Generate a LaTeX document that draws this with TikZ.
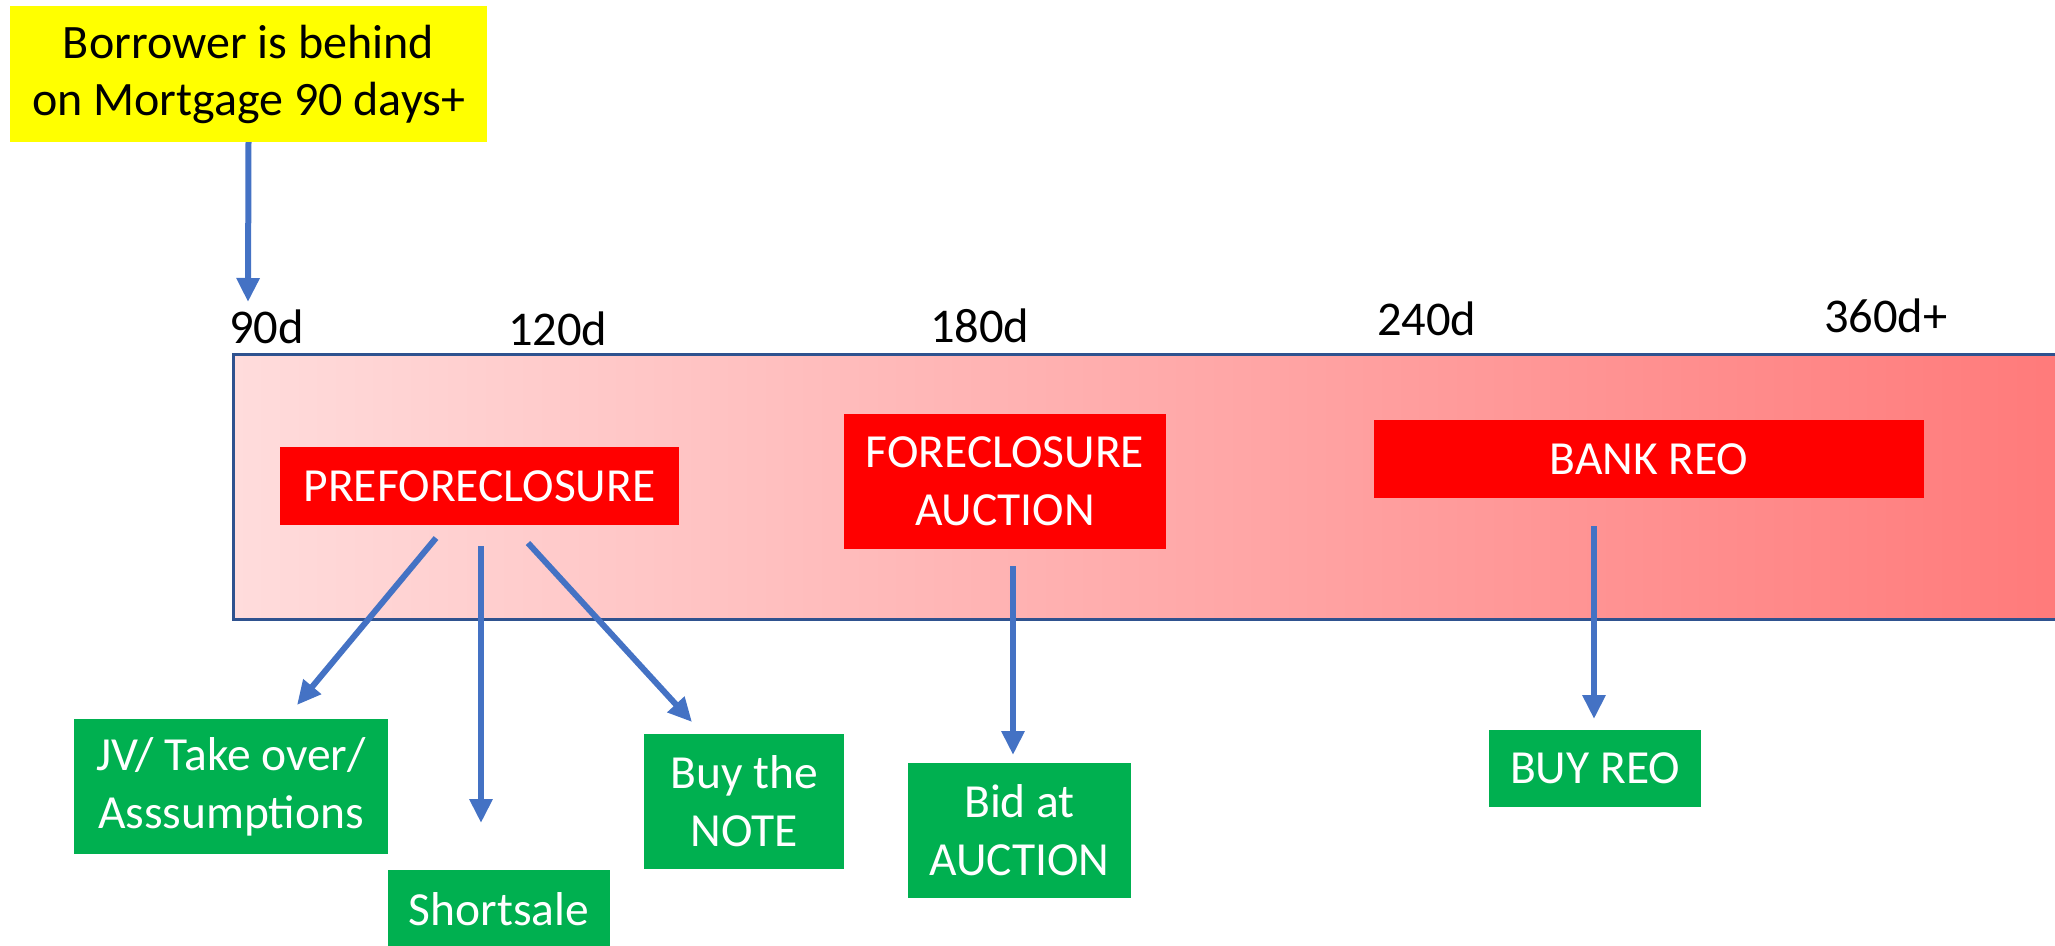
\documentclass[tikz,border=0pt]{standalone}
\usepackage{fontspec}
\setmainfont{Carlito}
\usetikzlibrary{arrows.meta,calc}
\definecolor{ylw}{RGB}{255,255,0}
\definecolor{redbox}{RGB}{255,0,0}
\definecolor{grn}{RGB}{0,176,80}
\definecolor{arrblue}{RGB}{68,114,196}
\definecolor{bandline}{RGB}{47,82,143}
\definecolor{bandL}{RGB}{255,220,220}
\definecolor{bandR}{RGB}{255,122,122}
\begin{document}
\begin{tikzpicture}[x=1pt,y=-1pt,
  lbl/.style={font=\fontsize{48.5}{56}\selectfont, inner sep=0pt, anchor=base west},
  redb/.style={fill=redbox, text=white, font=\fontsize{47.5}{58}\selectfont, align=center, inner sep=0pt},
  grnb/.style={fill=grn, text=white, font=\fontsize{47.5}{58}\selectfont, align=center, inner sep=0pt},
  arr/.style={draw=arrblue, line width=6pt, -{Triangle[width=22pt,length=24pt]}}]
\useasboundingbox (0,0) rectangle (2055,945);
\clip (0,0) rectangle (2055,945);
% band
\node[draw=bandline, line width=3pt, left color=bandL, right color=bandR,
  minimum width=1830pt, minimum height=265pt, inner sep=0pt] (band) at (1148,486.5) {};
% yellow
\node[fill=ylw, minimum width=477pt, minimum height=136pt, inner sep=0pt, align=center,
  font=\fontsize{48}{57}\selectfont] (yel) at (248.5,74) {Borrower is behind\\on Mortgage 90 days+};
% day labels
\node[lbl] (d90) at (229,343) {90d};
\node[lbl] (d120) at (508,345) {120d};
\node[lbl] (d180) at (930,342) {180d};
\node[lbl] (d240) at (1377,335) {240d};
\node[lbl] (d360) at (1824,332) {360d+};
% red boxes
\node[redb, minimum width=399pt, minimum height=78pt] (pre) at (479.5,486) {PREFORECLOSURE};
\node[redb, minimum width=322pt, minimum height=135pt] (fa) at (1005,481.5) {FORECLOSURE\\AUCTION};
\node[redb, minimum width=550pt, minimum height=78pt] (bank) at (1649,459) {BANK REO};
% green boxes
\node[grnb, minimum width=314pt, minimum height=135pt] (jv) at (231,786.5) {JV/ Take over/\\Asssumptions};
\node[grnb, minimum width=222pt, minimum height=78pt] (ss) at (499,909) {Shortsale};
\node[grnb, minimum width=200pt, minimum height=135pt] (note) at (744,801.5) {Buy the\\NOTE};
\node[grnb, minimum width=223pt, minimum height=135pt] (bid) at (1019.5,830.5) {Bid at\\AUCTION};
\node[grnb, minimum width=212pt, minimum height=77pt] (buy) at (1595,768.5) {BUY REO};
% connector ends
\coordinate (t0) at (248,302);
\coordinate (s1) at (436,538); \coordinate (t1) at (297,705);
\coordinate (s2) at (481,546); \coordinate (t2) at (481,823);
\coordinate (s3) at (528,543); \coordinate (t3) at (692,722);
\coordinate (s4) at (1013,566); \coordinate (t4) at (1013,755);
\coordinate (s5) at (1594,526); \coordinate (t5) at (1594,719);
\draw[arr] (yel.south) -- (t0);
\draw[arr] (s1) -- (t1);
\draw[arr] (s2) -- (t2);
\draw[arr] (s3) -- (t3);
\draw[arr] (s4) -- (t4);
\draw[arr] (s5) -- (t5);
\end{tikzpicture}
\end{document}
